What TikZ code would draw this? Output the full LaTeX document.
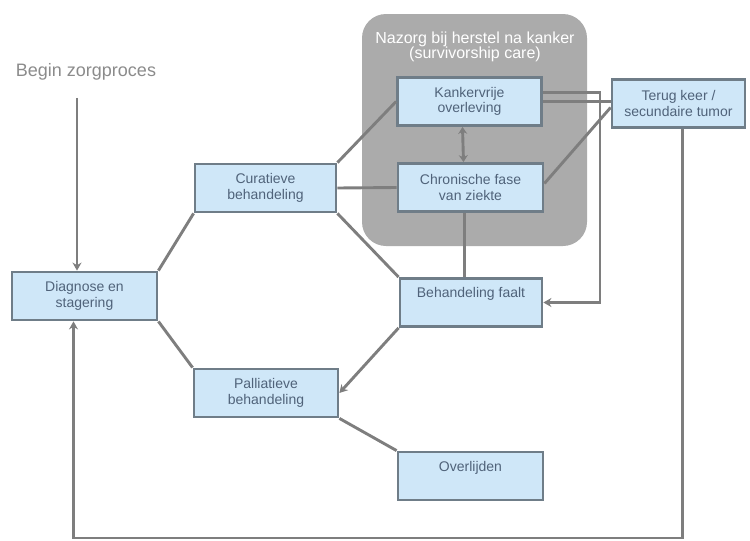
\documentclass[tikz,border=0pt]{standalone}
\usepackage{fontspec}
\setmainfont{Liberation Sans}
\usetikzlibrary{arrows.meta}

\definecolor{boxfill}{HTML}{CFE7F8}
\definecolor{boxline}{HTML}{6F7D88}
\definecolor{boxtext}{HTML}{50637A}
\definecolor{linegray}{HTML}{7E7E7E}
\definecolor{zonegray}{HTML}{ABABAB}

\tikzset{
  stap/.style={draw=boxline, line width=2.8pt, fill=boxfill, text=boxtext,
    minimum width=143pt, minimum height=48pt, align=center, inner sep=2pt,
    font=\fontsize{14}{15.5}\selectfont},
  lijn/.style={draw=linegray, line width=2.9pt},
  pijl/.style={lijn, -{Stealth[length=8pt,width=9pt]}},
}

\begin{document}
\begin{tikzpicture}[x=1pt, y=-1pt]
		\useasboundingbox (0,0) rectangle (750,541);
		%nazorg
		\fill[zonegray, rounded corners=24pt] (362,14) rectangle (587,246);
		\node[text=white, align=center, font=\fontsize{16}{15.5}\selectfont] (nazorg) at (475,47) {Nazorg bij herstel na kanker\\(survivorship care)};
		%stappen
		\node[text=linegray!90, font=\fontsize{18}{20}\selectfont] (start) at (86,72) {Begin zorgproces};
		\node[stap, minimum width=145pt] (diag) at (84.5,296) {Diagnose en\\stagering};
		\node[stap, minimum width=141pt] (cur) at (265.5,188) {Curatieve\\behandeling};
		\node[stap, minimum width=144pt] (pal) at (266,393) {Palliatieve\\behandeling};
		\node[stap, minimum width=144pt] (kank) at (469.5,101.5) {Kankervrije\\overleving};
		\node[stap, minimum width=145pt] (chron) at (470.5,187.5) {Chronische fase\\van ziekte};
		\node[stap, minimum width=142pt] (faalt) at (471,302.5) {Behandeling faalt\\\strut};
		\node[stap, minimum width=145pt] (over) at (470.5,476) {Overlijden\\\strut};
		\node[stap, minimum width=133pt] (terug) at (678.5,103.5) {Terug keer /\\secundaire tumor};
		\coordinate (rt) at (600,302.5);
		\coordinate (bot) at (0,538);
		%verbindingen
		\draw[pijl, shorten <=14pt] ([xshift=-9pt]start.south) -- ([xshift=-9pt]start.south |- diag.north);
		\draw[lijn] (diag.north east) -- (cur.south west);
		\draw[lijn] (diag.south east) -- (pal.north west);
		\draw[lijn] (cur.north east) -- (kank.west);
		\draw[lijn] (cur.east) -- (chron.west);
		\draw[lijn] (cur.south east) -- (faalt.north west);
		\draw[lijn] ([xshift=-6pt]chron.south) -- ([xshift=-6pt]chron.south |- faalt.north);
		\draw[lijn, {Stealth[length=7pt,width=9pt]}-{Stealth[length=7pt,width=9pt]}] ([xshift=-7pt]kank.south) -- ([xshift=-7pt]chron.north);
		\draw[pijl] ([yshift=9pt]kank.east) -| (rt) -- (faalt.east);
		\draw[lijn] (kank.east) -- (kank.east -| terug.west);
		\draw[lijn] ([yshift=4pt]chron.east) -- ([yshift=-4pt]terug.west);
		\draw[pijl] (faalt.south west) -- (pal.east);
		\draw[lijn] (pal.south east) -- (over.north west);
		\draw[pijl] ([xshift=4pt]terug.south) -- ([xshift=4pt]terug.south |- bot) -| ([xshift=-11pt]diag.south);
	\end{tikzpicture}
\end{document}
